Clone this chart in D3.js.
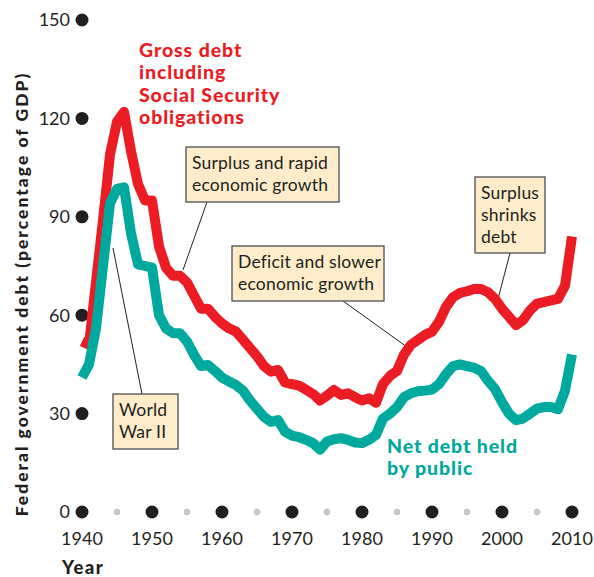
<!DOCTYPE html>
<html><head><meta charset="utf-8">
<script src="https://cdn.jsdelivr.net/npm/d3@7"></script>
<style>
html,body{margin:0;padding:0;background:#fff;}
svg{display:block;}
text{font-family:Lato,"Open Sans",sans-serif;}
</style></head>
<body>
<svg id="chart" width="594" height="577"></svg>
<script>
const years = d3.range(1940, 2011);
const grossDebt = [52,51,70,89,109,119,122,110,100,95,95,81,74.5,72,72,70,66,62,62,59.5,57.5,56,55,52.5,50,47.5,44.5,42.8,43.3,39.5,39,38.5,37.3,36,34,35.5,37.2,35.7,36.2,35,34,34.7,33.3,39,41.5,43,48,51,52.5,54,55,58,62.5,65.5,66.8,67.3,68,68,67,65,62,59.5,57,58.5,61.5,63.5,64,64.5,65,69,84];
const netDebt = [41,45,56,75,94,98.5,99,85,75.5,75,74.5,60,56,54.5,54.5,52,48,44.5,44.8,43,41,39.8,38.7,37,34,31.5,29,27.5,28,24.5,23.3,22.8,22,21,19,21.5,22.2,22.5,22,21.2,21,22,23.5,28.5,30,32,35,36.2,36.8,37,37.3,39,42,44.5,45,44.5,44,43,40,37.5,33.5,30,28,28.5,30,31.5,32,32,31.3,37,48];
const yTicks = [0,30,60,90,120,150];
const xMajor = [1940,1950,1960,1970,1980,1990,2000,2010];
const xMinor = [1945,1955,1965,1975,1985,1995,2005];
const grossLabel = ["Gross debt","including","Social Security","obligations"];
const netLabel = ["Net debt held","by public"];
const notes = [
  {lines:["Surplus and rapid","economic growth"], box:[186,147,339,202], leader:[[207,202],[183,270]]},
  {lines:["Deficit and slower","economic growth"], box:[232,246,384,301], leader:[[343,301],[407,347]]},
  {lines:["Surplus","shrinks","debt"], box:[475,177,545,253], leader:[[510,253],[498,299]]},
  {lines:["World","War II"], box:[113,394,178,449], leader:[[142,394],[113,248]]}
];

const RED = "#ec1c24", TEAL = "#00a99d", INK = "#231f20";
const svg = d3.select("#chart");
const x = d3.scaleLinear().domain([1940,2010]).range([82,572]);
const y = d3.scaleLinear().domain([0,150]).range([512,20]);

// Y ticks
yTicks.forEach(t=>{
  svg.append("circle").attr("cx",x(1940)).attr("cy",y(t)).attr("r",6.5).attr("fill",INK);
  svg.append("text").attr("x",70).attr("y",y(t)).attr("dy","0.36em").attr("text-anchor","end")
    .attr("font-size",18).attr("fill",INK).text(t);
});
// X ticks
xMinor.forEach(t=>{
  svg.append("circle").attr("cx",x(t)).attr("cy",y(0)).attr("r",3.3).attr("fill","#cbc5ca");
});
xMajor.forEach(t=>{
  if(t!==1940) svg.append("circle").attr("cx",x(t)).attr("cy",y(0)).attr("r",6.5).attr("fill",INK);
  svg.append("text").attr("x",x(t)).attr("y",545).attr("text-anchor","middle")
    .attr("font-size",18).attr("fill",INK).text(t);
});
svg.append("text").attr("x",62).attr("y",574).attr("font-size",18.5).attr("font-weight",900)
  .attr("letter-spacing",1.4).attr("fill",INK).text("Year");
svg.append("text").attr("transform","translate(28,294) rotate(-90)").attr("text-anchor","middle")
  .attr("font-size",17.5).attr("font-weight",900).attr("letter-spacing",2.0).attr("fill",INK)
  .text("Federal government debt (percentage of GDP)");

// leaders
notes.forEach(n=>{
  svg.append("line").attr("x1",n.leader[0][0]).attr("y1",n.leader[0][1])
    .attr("x2",n.leader[1][0]).attr("y2",n.leader[1][1]).attr("stroke",INK).attr("stroke-width",1);
});

const line = d3.line().x((d,i)=>x(years[i])).y(d=>y(d));
svg.append("path").datum(grossDebt).attr("d",line).attr("fill","none").attr("stroke",RED)
  .attr("stroke-width",10).attr("stroke-linejoin","round");
svg.append("path").datum(netDebt).attr("d",line).attr("fill","none").attr("stroke",TEAL)
  .attr("stroke-width",10).attr("stroke-linejoin","round");

// boxes
notes.forEach(n=>{
  const [x0,y0,x1,y1]=n.box;
  svg.append("rect").attr("x",x0).attr("y",y0).attr("width",x1-x0).attr("height",y1-y0)
    .attr("fill","#feeccb").attr("stroke","#4d4d4f").attr("stroke-width",1.3);
  n.lines.forEach((s,i)=>{
    svg.append("text").attr("x",x0+6).attr("y",y0+22+i*22).attr("font-size",17.5)
      .attr("letter-spacing",0.2).attr("fill",INK).text(s);
  });
});

// series labels
grossLabel.forEach((s,i)=>{
  svg.append("text").attr("x",139).attr("y",57+i*22.3).attr("font-size",19.5).attr("font-weight",900)
    .attr("letter-spacing",0.9).attr("fill",RED).text(s);
});
netLabel.forEach((s,i)=>{
  svg.append("text").attr("x",387).attr("y",453+i*21.5).attr("font-size",19.5).attr("font-weight",900)
    .attr("letter-spacing",0.9).attr("fill",TEAL).text(s);
});
</script>
</body></html>
